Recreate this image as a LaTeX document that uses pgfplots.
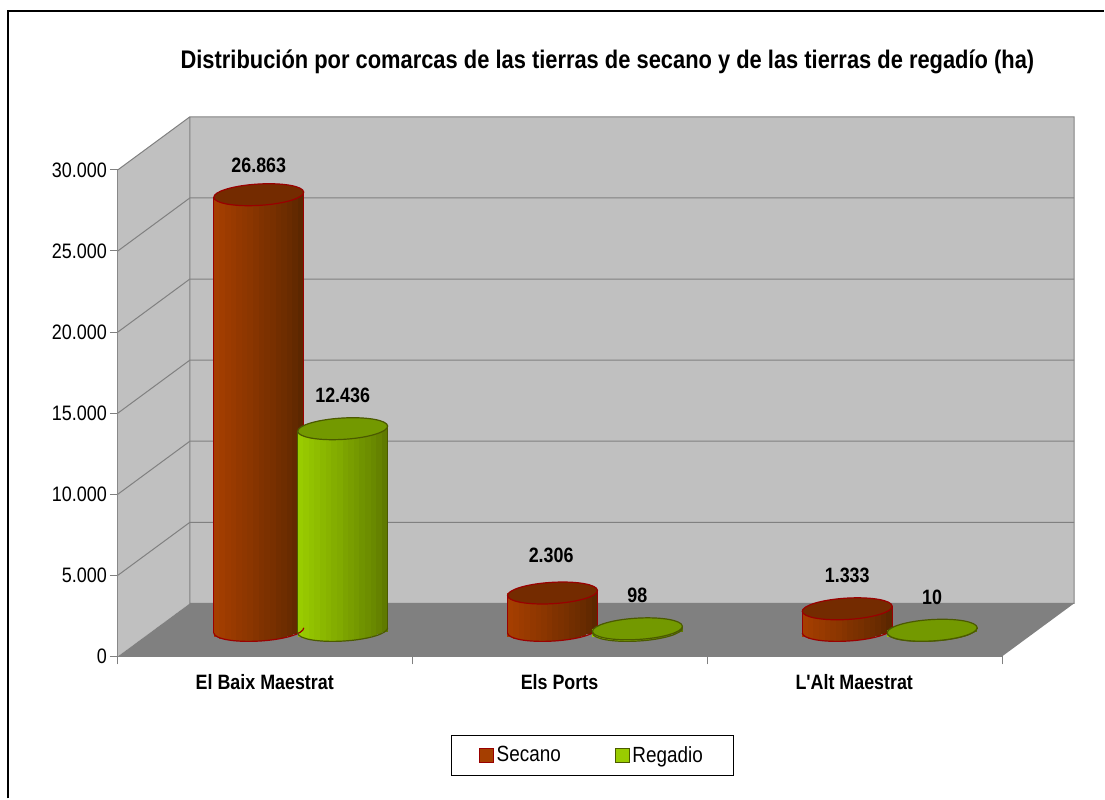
\documentclass[border=0pt]{standalone}
\usepackage{pgfplots}
\pgfplotsset{compat=1.18}
\usepackage{pgfplotstable}
\usepackage{fontspec}
\setmainfont[FakeStretch=0.86,Ligatures=TeXOff]{Liberation Sans}
\definecolor{wall}{HTML}{C0C0C0}
\definecolor{floorc}{HTML}{808080}
\definecolor{redL}{HTML}{A53E00}
\definecolor{redR}{HTML}{5C2700}
\definecolor{redT}{HTML}{742B00}
\definecolor{redE}{HTML}{990000}
\definecolor{grnL}{HTML}{99CC00}
\definecolor{grnR}{HTML}{5F7A00}
\definecolor{grnT}{HTML}{739900}
\definecolor{grnE}{HTML}{4B5A00}
\pgfdeclareplotmark{cyl}{%
  \pgfpathellipse{\pgfpointorigin}{\pgfqpoint{33.75pt}{2pt}}{\pgfqpoint{-0.5pt}{8pt}}%
  \pgfusepathqfillstroke}
\pgfdeclareplotmark{cylb}{%
  \pgfpathmoveto{\pgfqpoint{-33.75pt}{-2pt}}%
  \pgfpathcurveto{\pgfqpoint{-33.47pt}{-6.42pt}}{\pgfqpoint{-18.14pt}{-9.10pt}}{\pgfqpoint{0.5pt}{-8pt}}%
  \pgfpathcurveto{\pgfqpoint{19.14pt}{-6.90pt}}{\pgfqpoint{34.03pt}{-2.42pt}}{\pgfqpoint{33.75pt}{2pt}}%
  \pgfusepathqstroke}
% x: pixel position of the cylinder, v: value, dx/dy: label offset in pt
\pgfplotstableread{
x v dx dy
259 26863 0 22
553 2306 -1 28
848 1333 0 25
}\secano
\pgfplotstableread{
x v dx dy
343 12436 0 25
638 98 0 25
933 10 0 25
}\regadio
\tikzset{lab/.style={font=\fontsize{15.6}{18}\selectfont\bfseries}}
\pgfplotsset{
  common/.style={
    scale only axis, width=663.75pt, height=365.25pt,
    xmin=118, xmax=1003, clip=false, enlargelimits=false,
    scaled y ticks=false,
    /pgf/number format/.cd, 1000 sep={.}, fixed, assume math mode=true, /pgfplots/.cd,
  },
  cyltop/.style={only marks, mark=cyl, forget plot, line width=0.9pt},
  cylbot/.style={only marks, mark=cylb, forget plot, line width=0.9pt},
}
% one vertical band of a cylinder body: #1 x offset, #2 depth of its foot, #3 table, #4 colour
\newcommand\band[4]{\addplot[forget plot, draw=none, mark=none,
   error bars/.cd, y dir=minus, y explicit, error mark=none,
   error bar style={line width=4.4pt, color=#4}]
   table[x expr=\thisrow{x}+#1, y=v, y error expr=\thisrow{v}+#2] {#3};}
\newcommand\bands[3]{%
  \band{-42.19}{383}{#1}{#2!100!#3}
  \band{-36.56}{517}{#1}{#2!94!#3}
  \band{-30.94}{591}{#1}{#2!88!#3}
  \band{-25.31}{637}{#1}{#2!82!#3}
  \band{-19.69}{664}{#1}{#2!76!#3}
  \band{-14.06}{677}{#1}{#2!70!#3}
  \band{-8.44}{678}{#1}{#2!64!#3}
  \band{-2.81}{668}{#1}{#2!58!#3}
  \band{2.81}{648}{#1}{#2!50!#3}
  \band{8.44}{616}{#1}{#2!44!#3}
  \band{14.06}{575}{#1}{#2!38!#3}
  \band{19.69}{520}{#1}{#2!30!#3}
  \band{25.31}{453}{#1}{#2!24!#3}
  \band{30.94}{365}{#1}{#2!18!#3}
  \band{36.56}{251}{#1}{#2!10!#3}
  \band{42.19}{75}{#1}{#2!0!#3}
}
% outline of a cylinder's flank: #1 table, #2 colour
\newcommand\flanks[2]{%
  \addplot[forget plot, draw=none, mark=none,
   error bars/.cd, y dir=minus, y explicit, error mark=none,
   error bar style={line width=0.9pt, color=#2}]
   table[x expr=\thisrow{x}-45, y expr=\thisrow{v}-164, y error expr=\thisrow{v}] {#1};
  \addplot[forget plot, draw=none, mark=none,
   error bars/.cd, y dir=minus, y explicit, error mark=none,
   error bar style={line width=0.9pt, color=#2}]
   table[x expr=\thisrow{x}+45, y expr=\thisrow{v}+164, y error expr=\thisrow{v}] {#1};
}
\begin{document}
\begin{tikzpicture}
\begin{axis}[common,
  ymin=0, ymax=30000,
  axis lines=left,
  axis line style={-, draw=floorc, line width=0.75pt},
  tick align=outside,
  major tick length=6pt,
  tick style={draw=floorc, line width=0.75pt},
  ytick={0,5000,10000,15000,20000,25000,30000},
  yticklabel style={font=\fontsize{15.7}{18}\selectfont, inner sep=0pt, xshift=-2pt},
  xtick={118,412.8,707.7,1003},
  xticklabels={},
  extra x ticks={265,560,855},
  extra x tick labels={El Baix Maestrat,Els Ports,L'Alt Maestrat},
  extra x tick style={major tick length=0pt, tick label style={lab, anchor=center, yshift=-19.5pt}},
]
% page extent
\path (axis cs:0,-8747) rectangle (axis cs:1105,40471);
% frame of the chart area
\draw[black, line width=1.5pt] (axis cs:8.5,-8747) -- (axis cs:8.5,39794) -- (axis cs:1105,39794);
% walls and floor
\fill[wall] (axis cs:118,0) -- (axis cs:190,3265) -- (axis cs:190,33265) -- (axis cs:118,30000) -- cycle;
\fill[wall] (axis cs:190,3265) rectangle (axis cs:1075,33265);
\fill[floorc] (axis cs:118,0) -- (axis cs:1003,0) -- (axis cs:1075,3265) -- (axis cs:190,3265) -- cycle;
\draw[floorc, line width=0.75pt] (axis cs:118,30000) -- (axis cs:190,33265) -- (axis cs:1075,33265) -- (axis cs:1075,3265) -- (axis cs:190,3265) -- (axis cs:190,33265);
\draw[floorc, line width=0.75pt] (axis cs:118,5000) -- (axis cs:190,8265) -- (axis cs:1075,8265);
\draw[floorc, line width=0.75pt] (axis cs:118,10000) -- (axis cs:190,13265) -- (axis cs:1075,13265);
\draw[floorc, line width=0.75pt] (axis cs:118,15000) -- (axis cs:190,18265) -- (axis cs:1075,18265);
\draw[floorc, line width=0.75pt] (axis cs:118,20000) -- (axis cs:190,23265) -- (axis cs:1075,23265);
\draw[floorc, line width=0.75pt] (axis cs:118,25000) -- (axis cs:190,28265) -- (axis cs:1075,28265);
% title
\node[font=\fontsize{19.1}{20}\selectfont\bfseries, anchor=center] at (axis cs:608,36652)
  {Distribución por comarcas de las tierras de secano y de las tierras de regadío (ha)};
\end{axis}
\begin{axis}[common, hide axis,
  ymin=-1602, ymax=28398,
  legend style={at={(rel axis cs:0.5365,-0.2033)}, anchor=center, draw=black, line width=0.75pt,
    legend columns=2, font=\fontsize{16.5}{18}\selectfont,
    inner xsep=21pt, inner ysep=6.5pt,
    /tikz/every even column/.append style={column sep=38.5pt}},
  legend cell align=left,
  nodes near coords style={lab, anchor=center, inner sep=0pt},
]
\addlegendimage{legend image code/.code={\draw[fill=redL, draw=redE, line width=0.75pt] (0pt,-5.2pt) rectangle (10.5pt,5.2pt);}}
\addlegendentry{Secano}
\addlegendimage{legend image code/.code={\draw[fill=grnL, draw=grnE, line width=0.75pt] (0pt,-5.2pt) rectangle (10.5pt,5.2pt);}}
\addlegendentry{Regadio}
% Secano
\bands{\secano}{redL}{redR}
\addplot[cylbot, mark options={draw=redE}] table[x=x, y expr=0] {\secano};
\flanks{\secano}{redE}
\addplot[cyltop, mark options={fill=redT, draw=redE},
  visualization depends on={\thisrow{dx} \as \dxv},
  visualization depends on={\thisrow{dy} \as \dyv},
  point meta=y, nodes near coords,
  every node near coord/.append style={xshift=\dxv pt, yshift=\dyv pt, black}
] table[x=x, y=v] {\secano};
% Regadio
\bands{\regadio}{grnL}{grnR}
\addplot[cylbot, mark options={draw=grnE}] table[x=x, y expr=0] {\regadio};
\flanks{\regadio}{grnE}
\addplot[cyltop, mark options={fill=grnT, draw=grnE},
  visualization depends on={\thisrow{dx} \as \dxv},
  visualization depends on={\thisrow{dy} \as \dyv},
  point meta=y, nodes near coords,
  every node near coord/.append style={xshift=\dxv pt, yshift=\dyv pt, black}
] table[x=x, y=v] {\regadio};
\end{axis}
\end{tikzpicture}
\end{document}
